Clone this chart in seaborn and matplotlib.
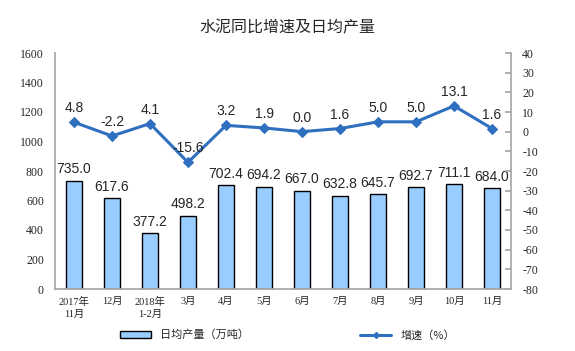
import numpy as np
import pandas as pd
import matplotlib
matplotlib.use("Agg")
import matplotlib.pyplot as plt
import seaborn as sns
from matplotlib.patches import Patch
from matplotlib.lines import Line2D

sns.set_theme(style="white")
plt.rcParams['font.family'] = ['Noto Sans CJK SC', 'DejaVu Sans']
plt.rcParams['axes.unicode_minus'] = False

months = ['2017年\n11月', '12月', '2018年\n1-2月', '3月', '4月', '5月',
          '6月', '7月', '8月', '9月', '10月', '11月']
daily_output = [735.0, 617.6, 377.2, 498.2, 702.4, 694.2,
                667.0, 632.8, 645.7, 692.7, 711.1, 684.0]
growth = [4.8, -2.2, 4.1, -15.6, 3.2, 1.9, 0.0, 1.6, 5.0, 5.0, 13.1, 1.6]

df = pd.DataFrame({'month': months, 'output': daily_output, 'growth': growth})

bar_color = '#99CCFF'
line_color = '#2E6FC0'
axis_gray = '#A6A6A6'
serif = ['Liberation Serif', 'Noto Sans CJK SC']
num_font = ['Liberation Sans', 'DejaVu Sans']

fig = plt.figure(figsize=(5.75, 3.51), dpi=100)
ax = fig.add_axes([55 / 575, 1 - 289 / 351, 456 / 575, 236 / 351])

sns.barplot(data=df, x='month', y='output', color=bar_color, width=0.42,
            edgecolor='black', linewidth=1.0, saturation=1, ax=ax)
ax.set_ylim(0, 1600)
ax.set_yticks(range(0, 1601, 200))
ax.set_xlim(-0.5, len(months) - 0.5)
ax.set_xlabel('')
ax.set_ylabel('')

for i, v in enumerate(daily_output):
    ax.annotate(f'{v:.1f}', (i, v), xytext=(0, 3), textcoords='offset points',
                ha='center', va='bottom', fontsize=10, family=num_font)

ax2 = ax.twinx()
x_pos = np.arange(len(months))
sns.lineplot(x=x_pos, y=growth, color=line_color, linewidth=2.2,
             marker='D', markersize=5, markeredgecolor=line_color, ax=ax2)
ax2.set_ylim(-80, 40)
ax2.set_yticks(range(-80, 41, 10))
ax2.set_xlim(-0.5, len(months) - 0.5)

for i, v in enumerate(growth):
    ax2.annotate(f'{v:.1f}', (i, v), xytext=(0, 5), textcoords='offset points',
                 ha='center', va='bottom', fontsize=10, family=num_font)

for a in (ax, ax2):
    a.spines['top'].set_visible(False)
    a.spines['left'].set_color(axis_gray)
    a.spines['right'].set_color(axis_gray)
    a.spines['bottom'].set_color(axis_gray)
    a.grid(False)
ax.spines['right'].set_visible(False)
ax2.spines['left'].set_visible(False)
ax2.spines['bottom'].set_visible(False)

ax.tick_params(axis='y', length=0, pad=8, labelsize=8.5)
ax.set_xticks(x_pos)
ax.set_xticklabels(months, family=serif, fontsize=7.5, linespacing=1.3)
ax.tick_params(axis='x', length=0, pad=6)
ax.set_xticks(np.arange(-0.5, len(months), 1), minor=True)
ax.tick_params(axis='x', which='minor', length=3, color=axis_gray, direction='out')
ax2.tick_params(axis='y', direction='in', length=4, color=axis_gray, pad=8, labelsize=8.5)
for lbl in ax.get_yticklabels() + ax2.get_yticklabels():
    lbl.set_family(serif)

fig.suptitle('水泥同比增速及日均产量', x=0.5, y=1 - 28 / 351, fontsize=11.5, va='center')

handles = [Patch(facecolor=bar_color, edgecolor='black', linewidth=1.0),
           Line2D([0], [0], color=line_color, linewidth=2.2, marker='D', markersize=3)]
fig.legend(handles, ['日均产量（万吨）', '增速（%）'], loc='center',
           bbox_to_anchor=(0.5, 1 - 335 / 351), ncol=2, frameon=False,
           columnspacing=10, handlelength=2.8, handleheight=0.6,
           prop={'size': 8})

fig.savefig('out.png', dpi=100)
